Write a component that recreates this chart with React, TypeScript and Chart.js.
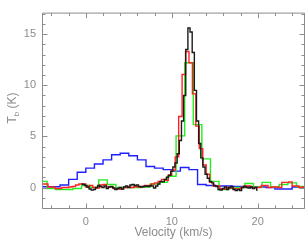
import { useEffect, useRef } from 'react';
import { Chart, registerables } from 'chart.js';

Chart.register(...registerables);

// ---- data ----
const X_MIN = -5.1;
const X_MAX = 25.5;
const Y_MIN = -2.1;
const Y_MAX = 17.1;
const xTickLabels = [0, 10, 20];
const yTickLabels = [0, 5, 10, 15];
const xMinorTicks = [-4, -2, 0, 2, 4, 6, 8, 10, 12, 14, 16, 18, 20, 22, 24];
const yMinorTicks = [-2, -1, 0, 1, 2, 3, 4, 5, 6, 7, 8, 9, 10, 11, 12, 13, 14, 15, 16, 17];

// black: fine-resolution spectrum (channel centres start, width)
const blackStart = -0.5;
const blackWidth = 0.25;
const blackT = [
  0.35, 0.3, 0.2, 0.05, -0.15, -0.25, -0.2, 0.0, 0.2, 0.1,
  0.0, 0.15, -0.1, 0.05, 0.1, -0.05, -0.2, -0.1, 0.0, -0.15,
  0.05, 0.15, 0.0, 0.25, 0.3, 0.2, 0.25, 0.1, 0.05, 0.1,
  0.15, 0.1, 0.2, 0.15, -0.05, 0.15, 0.35, 0.6, 0.55, 0.8,
  1.0, 1.2, 1.6, 2.0, 2.4, 3.3, 4.6, 6.5, 9.0, 13.5,
  15.6, 15.2, 13.2, 9.5, 6.5, 4.3, 2.9, 2.0, 1.3, 0.9,
  0.6, 0.45, 0.2, 0.1, -0.2, -0.25, -0.1, 0.05, -0.2, 0.0,
  0.1, -0.2, -0.3, -0.2, -0.3, 0.0, 0.1, 0.0, -0.05, 0.05,
  -0.1, 0.0, -0.25,
];

// red
const redStart = -5.0;
const redWidth = 0.4;
const redT = [
  0.35, 0.35, 0.05, 0.05, -0.1, -0.1, 0.0, 0.0, 0.05, 0.1,
  0.25, 0.35, 0.35, 0.05, 0.2, 0.0, -0.05, 0.25, 0.3, 0.05,
  0.05, -0.1, -0.15, -0.15, 0.0, 0.05, 0.0, 0.1, 0.05, 0.1,
  0.2, 0.15, 0.35, 0.45, 0.6, 0.8, 0.7, 1.2, 1.7, 3.0,
  6.95, 11.05, 13.3, 12.2, 9.15, 6.0, 3.8, 2.2, 1.3, 0.5,
  0.15, 0.15, -0.15, -0.15, 0.0, -0.05, -0.15, -0.15, 0.0, 0.15,
  0.15, 0.0, 0.0, 0.0, 0.2, 0.2, 0.0, 0.05, 0.05, 0.0,
  0.5, 0.5, 0.55, 0.15, 0.15, 0.0, 0.05, 0.05,
];

// green
const greenStart = -5.0;
const greenWidth = 1.0;
const greenT = [
  0.6, -0.1, -0.2, -0.2, -0.1, 0.2, 0.0, 0.75, 0.3, 0.0,
  0.0, 0.0, 0.05, 0.35, 0.5, 1.1, 5.05, 12.2, 6.15, 2.8,
  0.6, -0.2, -0.1, 0.0, 0.4, 0.05, 0.5, 0.05, 0.3, 0.45,
  0.1, 0.1,
];

// blue
const blueStart = -5.5;
const blueWidth = 1.0;
const blueT = [
  0.07, 0.07, 0.07, 0.25, 0.8, 1.5, 1.9, 2.3, 2.7, 3.2,
  3.35, 3.1, 2.7, 2.05, 1.9, 1.75, 1.6, 1.95, 1.75, 0.3,
  0.2, 0.15, 0.15, 0.1, 0.1, 0.05, 0.05, 0.0, -0.15, -0.15,
  0.05, 0.05,
];

const AXIS = '#8c8c8c';
const FONT = "'Liberation Sans', Arial, sans-serif";

function channels(start: number, width: number, values: number[]) {
  return values.map((t, i) => ({ x: start + i * width, y: t }));
}

const framePlugin = {
  id: 'frame',
  afterDatasetsDraw(chart: any) {
    const { ctx, chartArea: a, scales } = chart;
    const xs = scales.x;
    const ys = scales.y;
    ctx.save();
    ctx.strokeStyle = AXIS;
    ctx.lineWidth = 1;
    const L = a.left + 0.5, R = a.right - 0.5, T = a.top + 0.5, B = a.bottom - 0.5;
    ctx.beginPath();
    ctx.rect(L, T, R - L, B - T);
    ctx.stroke();
    ctx.beginPath();
    for (const v of xMinorTicks) {
      const len = xTickLabels.includes(v) ? 5 : 3;
      const px = Math.round(xs.getPixelForValue(v)) + 0.5;
      ctx.moveTo(px, B);
      ctx.lineTo(px, B - len);
      ctx.moveTo(px, T);
      ctx.lineTo(px, T + len);
    }
    for (const v of yMinorTicks) {
      const len = yTickLabels.includes(v) ? 5 : 3;
      const py = Math.round(ys.getPixelForValue(v)) + 0.5;
      ctx.moveTo(L, py);
      ctx.lineTo(L + len, py);
      ctx.moveTo(R, py);
      ctx.lineTo(R - len, py);
    }
    ctx.stroke();

    // x title
    ctx.fillStyle = AXIS;
    ctx.font = `12px ${FONT}`;
    ctx.textAlign = 'center';
    ctx.textBaseline = 'alphabetic';
    ctx.fillText('Velocity (km/s)', (a.left + a.right) / 2, 236);

    // y title with subscript
    ctx.save();
    ctx.translate(15.5, 108);
    ctx.rotate(-Math.PI / 2);
    ctx.textAlign = 'left';
    const big = `12px ${FONT}`;
    const small = `8px ${FONT}`;
    ctx.font = big;
    const wT = ctx.measureText('T').width;
    const wK = ctx.measureText(' (K)').width;
    ctx.font = small;
    const wb = ctx.measureText('b').width;
    const total = wT + wb + wK;
    let x0 = -total / 2;
    ctx.font = big;
    ctx.fillText('T', x0, 0);
    x0 += wT;
    ctx.font = small;
    ctx.fillText('b', x0, 3);
    x0 += wb;
    ctx.font = big;
    ctx.fillText(' (K)', x0, 0);
    ctx.restore();

    ctx.restore();
  },
};

export default function App() {
  const ref = useRef<HTMLCanvasElement>(null);
  useEffect(() => {
    document.body.style.margin = '0';
    const canvas = ref.current!;
    const mk = (label: string, color: string, data: any[], w: number) => ({
      label,
      data,
      borderColor: color,
      backgroundColor: color,
      borderWidth: w,
      pointRadius: 0,
      stepped: 'middle' as const,
      fill: false,
      clip: 0,
    });
    const chart = new Chart(canvas, {
      type: 'line',
      data: {
        datasets: [
          mk('black', '#1a1a1a', channels(blackStart, blackWidth, blackT), 1.4),
          mk('red', '#ff2020', channels(redStart, redWidth, redT), 1.4),
          mk('green', '#22ee22', channels(greenStart, greenWidth, greenT), 1.4),
          mk('blue', '#2020ff', channels(blueStart, blueWidth, blueT), 1.4),
        ],
      },
      options: {
        animation: false,
        responsive: false,
        maintainAspectRatio: false,
        layout: { padding: { top: 6, right: 2, left: 0, bottom: 0 } },
        plugins: { legend: { display: false }, tooltip: { enabled: false } },
        scales: {
          x: {
            type: 'linear',
            min: X_MIN,
            max: X_MAX,
            grid: { display: false, drawTicks: false },
            border: { display: false },
            ticks: { color: AXIS, font: { family: FONT, size: 11 }, padding: 6, maxRotation: 0 },
            afterBuildTicks: (s: any) => {
              s.ticks = xTickLabels.map((v) => ({ value: v }));
            },
            afterFit: (s: any) => {
              s.height = 32;
            },
          },
          y: {
            type: 'linear',
            min: Y_MIN,
            max: Y_MAX,
            grid: { display: false, drawTicks: false },
            border: { display: false },
            ticks: { color: AXIS, font: { family: FONT, size: 11 }, padding: 6 },
            afterBuildTicks: (s: any) => {
              s.ticks = yTickLabels.map((v) => ({ value: v }));
            },
            afterFit: (s: any) => {
              s.width = 42;
            },
          },
        },
      },
      plugins: [framePlugin],
    });
    return () => chart.destroy();
  }, []);
  return <canvas ref={ref} width={307} height={241} style={{ display: 'block' }} />;
}
